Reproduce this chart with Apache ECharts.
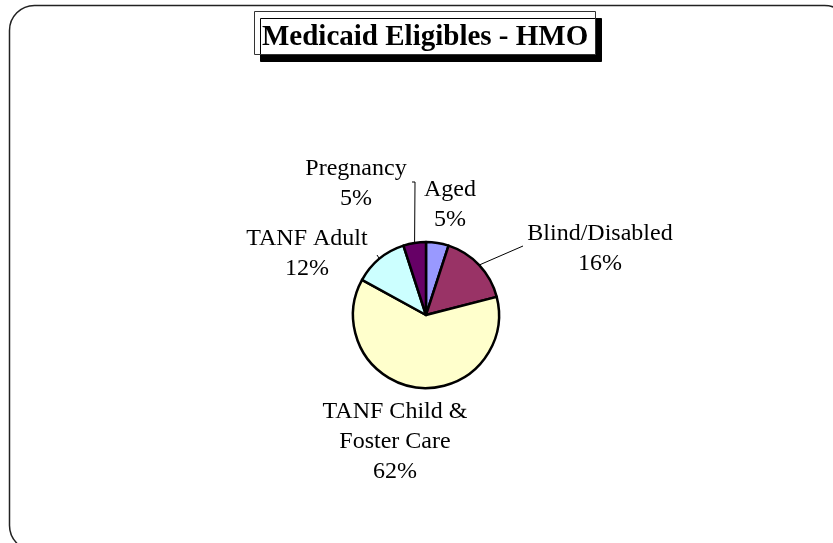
<!DOCTYPE html>
<html>
<head>
<meta charset="utf-8">
<style>
  html, body { margin: 0; padding: 0; background: #fff; }
  #chart { width: 833px; height: 543px; }
</style>
<script src="https://cdn.jsdelivr.net/npm/echarts@6/dist/echarts.min.js"></script>
</head>
<body>
<div id="chart"></div>
<script>
// Eligible groups enrolled in HMOs, share of total (%)
const categories = ['Aged', 'Blind/Disabled', 'TANF Child &\nFoster Care', 'TANF Adult', 'Pregnancy'];
const shares = [5, 16, 62, 12, 5];
const sliceColors = ['#9999FF', '#993366', '#FFFFCC', '#CCFFFF', '#660066'];

// label block centres and leader-line bends (pixels)
const labelSpots = [[450, 205], [600, 249], [395, 442], [307, 254], [356, 184]];
const leaderEnds = [null, [[523, 246], [523, 246]], null, [[377, 255], [377, 255]], [[415, 182], [412, 182]]];

const pieCenter = [426, 315];
const pieRadius = 73;
const serif = "'Liberation Serif', 'Times New Roman', 'DejaVu Serif', serif";

const total = shares.reduce((a, b) => a + b, 0);
function edgePoint(i) {
  let before = 0;
  for (let k = 0; k < i; k++) before += shares[k];
  const ang = (before + shares[i] / 2) / total * 2 * Math.PI;
  return [pieCenter[0] + pieRadius * Math.sin(ang), pieCenter[1] - pieRadius * Math.cos(ang)];
}

const chart = echarts.init(document.getElementById('chart'), null, { renderer: 'canvas' });

chart.setOption({
  backgroundColor: '#fff',
  animation: false,
  title: {
    text: 'Medicaid Eligibles - HMO',
    left: 254,
    top: 11,
    padding: [12, 8, 3, 8],
    backgroundColor: '#fff',
    borderColor: '#333',
    borderWidth: 1,
    shadowColor: '#000',
    shadowBlur: 0,
    shadowOffsetX: 6,
    shadowOffsetY: 7,
    textStyle: {
      fontFamily: serif,
      fontWeight: 'bold',
      fontSize: 29,
      lineHeight: 29,
      color: '#000'
    }
  },
  graphic: [{
    type: 'rect',
    z: -10,
    silent: true,
    shape: { x: 9.5, y: 5.5, width: 840, height: 545, r: 25 },
    style: { fill: null, stroke: '#222', lineWidth: 1.5 }
  }],
  series: [{
    type: 'pie',
    center: pieCenter,
    radius: pieRadius,
    startAngle: 90,
    clockwise: true,
    avoidLabelOverlap: false,
    itemStyle: { borderColor: '#000', borderWidth: 2.5 },
    label: {
      show: true,
      position: 'outside',
      formatter: '{b}\n{c}%',
      fontFamily: serif,
      fontSize: 24,
      lineHeight: 30,
      color: '#000',
      align: 'center'
    },
    labelLine: {
      show: true,
      lineStyle: { color: '#000', width: 1 }
    },
    labelLayout: function (params) {
      const i = params.dataIndex;
      const out = {
        x: labelSpots[i][0],
        y: labelSpots[i][1],
        align: 'center',
        verticalAlign: 'middle'
      };
      if (leaderEnds[i]) {
        out.labelLinePoints = [edgePoint(i)].concat(leaderEnds[i]);
      }
      return out;
    },
    emphasis: { disabled: true },
    data: categories.map((name, i) => ({
      name: name,
      value: shares[i],
      itemStyle: { color: sliceColors[i] },
      labelLine: { show: !!leaderEnds[i] }
    }))
  }]
});
</script>
</body>
</html>
